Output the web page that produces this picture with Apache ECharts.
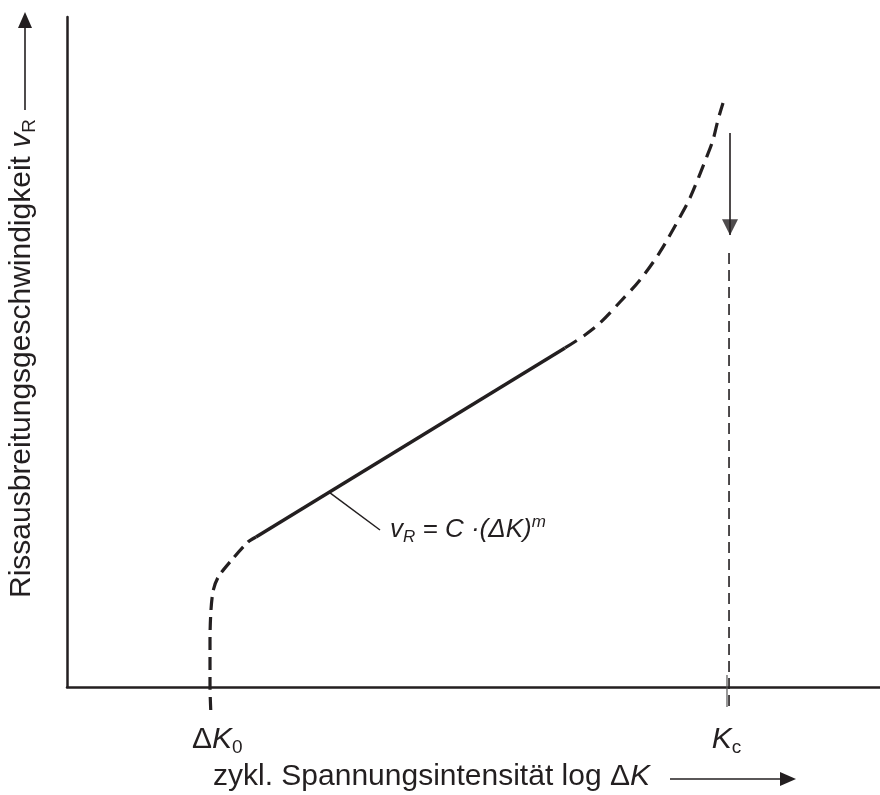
<!DOCTYPE html>
<html>
<head>
<meta charset="utf-8">
<script src="https://cdn.jsdelivr.net/npm/echarts@6/dist/echarts.min.js"></script>
<style>html,body{margin:0;padding:0;background:#fff}#c{width:880px;height:795px}</style>
</head>
<body>
<div id="c"></div>
<script>
// Schematic crack growth curve (log ΔK vs. v_R), arbitrary units 0..100
const thresholdX = [17.68, 17.59, 17.59, 17.71, 18.0, 18.61, 20.05, 22.26, 23.25];
const thresholdY = [-3.43, 0, 7.01, 11.49, 14.48, 16.42, 18.66, 21.64, 22.39];
const parisX = [23.25, 61.25];
const parisY = [22.39, 50.60];
const fractureX = [61.25, 63.71, 65.56, 68.02, 70.48, 72.94, 75.40, 76.63, 78.68, 79.46, 80.07, 80.69];
const fractureY = [50.60, 52.54, 54.33, 57.46, 60.75, 64.93, 70.15, 72.99, 79.10, 81.64, 84.63, 87.16];
const dK0 = 17.59;
const Kc = 81.43;
const kcLineY = [64.78, -3.0];
const kcTickY = [1.8, -3.0];
const kcArrowY = [82.69, 67.46];
const leaderX = [32.35, 38.5];
const leaderY = [28.96, 23.43];
const tickLabels = ['{d|Δ}{k|K}{s|0}', '{k|K}{s|c}'];
const tickLabelX = [15.37, 79.3];
const tickLabelY = -7.9;

const ink = '#231f20';
const FONT = '"Liberation Sans", Arial, Helvetica, sans-serif';
const zip = (xs, ys) => xs.map((x, i) => [x, ys[i]]);

const chart = echarts.init(document.getElementById('c'), null, {renderer: 'canvas'});
const option = {
  backgroundColor: '#fff',
  animation: false,
  grid: {left: 67, right: 0, top: 17, bottom: 108},
  xAxis: {
    type: 'value', min: 0, max: 100,
    axisLine: {show: true, onZero: false, lineStyle: {color: ink, width: 2.5}},
    axisTick: {show: false}, axisLabel: {show: false}, splitLine: {show: false}
  },
  yAxis: {
    type: 'value', min: 0, max: 100,
    axisLine: {show: true, onZero: false, lineStyle: {color: ink, width: 2.5}},
    axisTick: {show: false}, axisLabel: {show: false}, splitLine: {show: false}
  },
  series: [
    {type: 'line', data: zip(thresholdX, thresholdY), smooth: 0.3, showSymbol: false, clip: false,
     lineStyle: {color: ink, width: 3.2, type: [13, 7]}},
    {type: 'line', data: zip(parisX, parisY), showSymbol: false, clip: false,
     lineStyle: {color: ink, width: 3.4}},
    {type: 'line', data: zip(fractureX, fractureY), smooth: 0.3, showSymbol: false, clip: false,
     lineStyle: {color: ink, width: 3.2, type: [14, 8]}},
    {type: 'line', data: [[Kc, kcLineY[0]], [Kc, kcLineY[1]]], showSymbol: false, clip: false,
     lineStyle: {color: ink, width: 1.6, type: [11, 6]}},
    {type: 'line', data: [[Kc - 0.25, kcTickY[0]], [Kc - 0.25, kcTickY[1]]], showSymbol: false, clip: false,
     lineStyle: {color: '#555', width: 1.2}},
    {type: 'line', data: [[Kc + 0.12, kcArrowY[0]], [Kc + 0.12, kcArrowY[1]]], clip: false,
     showSymbol: false, lineStyle: {color: ink, width: 1.6}},
    {type: 'scatter', clip: false, symbol: 'triangle', symbolSize: [16, 16], symbolRotate: 180,
     itemStyle: {color: ink},
     data: [[Kc + 0.12, kcArrowY[1] + 1.15]]},
    {type: 'line', data: zip(leaderX, leaderY), showSymbol: false, clip: false,
     lineStyle: {color: ink, width: 1.5},
     endLabel: {show: true, distance: 10, color: ink,
       formatter: '{v|v}{sub|R}{v| = C ·(ΔK)}{sup|m}',
       rich: {
         v: {fontSize: 26, fontStyle: 'italic', fontFamily: FONT, color: ink, lineHeight: 32},
         sub: {fontSize: 17, fontStyle: 'italic', fontFamily: FONT, color: ink, lineHeight: 14, verticalAlign: 'bottom'},
         sup: {fontSize: 17, fontStyle: 'italic', fontFamily: FONT, color: ink, lineHeight: 18, verticalAlign: 'top'}
       }}},
    {type: 'scatter', clip: false, symbol: 'circle', symbolSize: 0, itemStyle: {color: ink},
     data: tickLabelX.map((x, i) => ({value: [x, tickLabelY], name: tickLabels[i]})),
     label: {show: true, position: 'right', distance: 0, formatter: p => p.name, color: ink, opacity: 1,
       rich: {
         d: {fontSize: 30, fontFamily: FONT, color: ink, lineHeight: 34},
         k: {fontSize: 30, fontStyle: 'italic', fontFamily: FONT, color: ink, lineHeight: 34},
         s: {fontSize: 19, fontFamily: FONT, color: ink, lineHeight: 16, verticalAlign: 'bottom'}
       }}}
  ],
  graphic: [
    {type: 'text', left: 213, top: 762,
     style: {text: '{n|zykl. Spannungsintensität log Δ}{k|K}', fill: ink,
       rich: {n: {fontSize: 30, fontFamily: FONT, fill: ink}, k: {fontSize: 30, fontStyle: 'italic', fontFamily: FONT, fill: ink}}}},
    {type: 'line', shape: {x1: 670, y1: 779, x2: 782, y2: 779}, style: {stroke: ink, lineWidth: 1.6}},
    {type: 'polygon', shape: {points: [[780, 772], [780, 786], [796, 779]]}, style: {fill: ink}},
    {type: 'text', x: 5, y: 598, rotation: Math.PI / 2, originX: 0, originY: 0,
     style: {text: '{n|Rissausbreitungsgeschwindigkeit }{v|v}{s|R}', fill: ink, verticalAlign: 'top',
       rich: {n: {fontSize: 30, fontFamily: FONT, fill: ink, lineHeight: 34},
              v: {fontSize: 30, fontStyle: 'italic', fontFamily: FONT, fill: ink, lineHeight: 34},
              s: {fontSize: 19, fontFamily: FONT, fill: ink, lineHeight: 18, verticalAlign: 'bottom'}}}},
    {type: 'line', shape: {x1: 25, y1: 110, x2: 25, y2: 26}, style: {stroke: ink, lineWidth: 1.6}},
    {type: 'polygon', shape: {points: [[18, 28], [32, 28], [25, 12]]}, style: {fill: ink}}
  ]
};
chart.setOption(option);
</script>
</body>
</html>
